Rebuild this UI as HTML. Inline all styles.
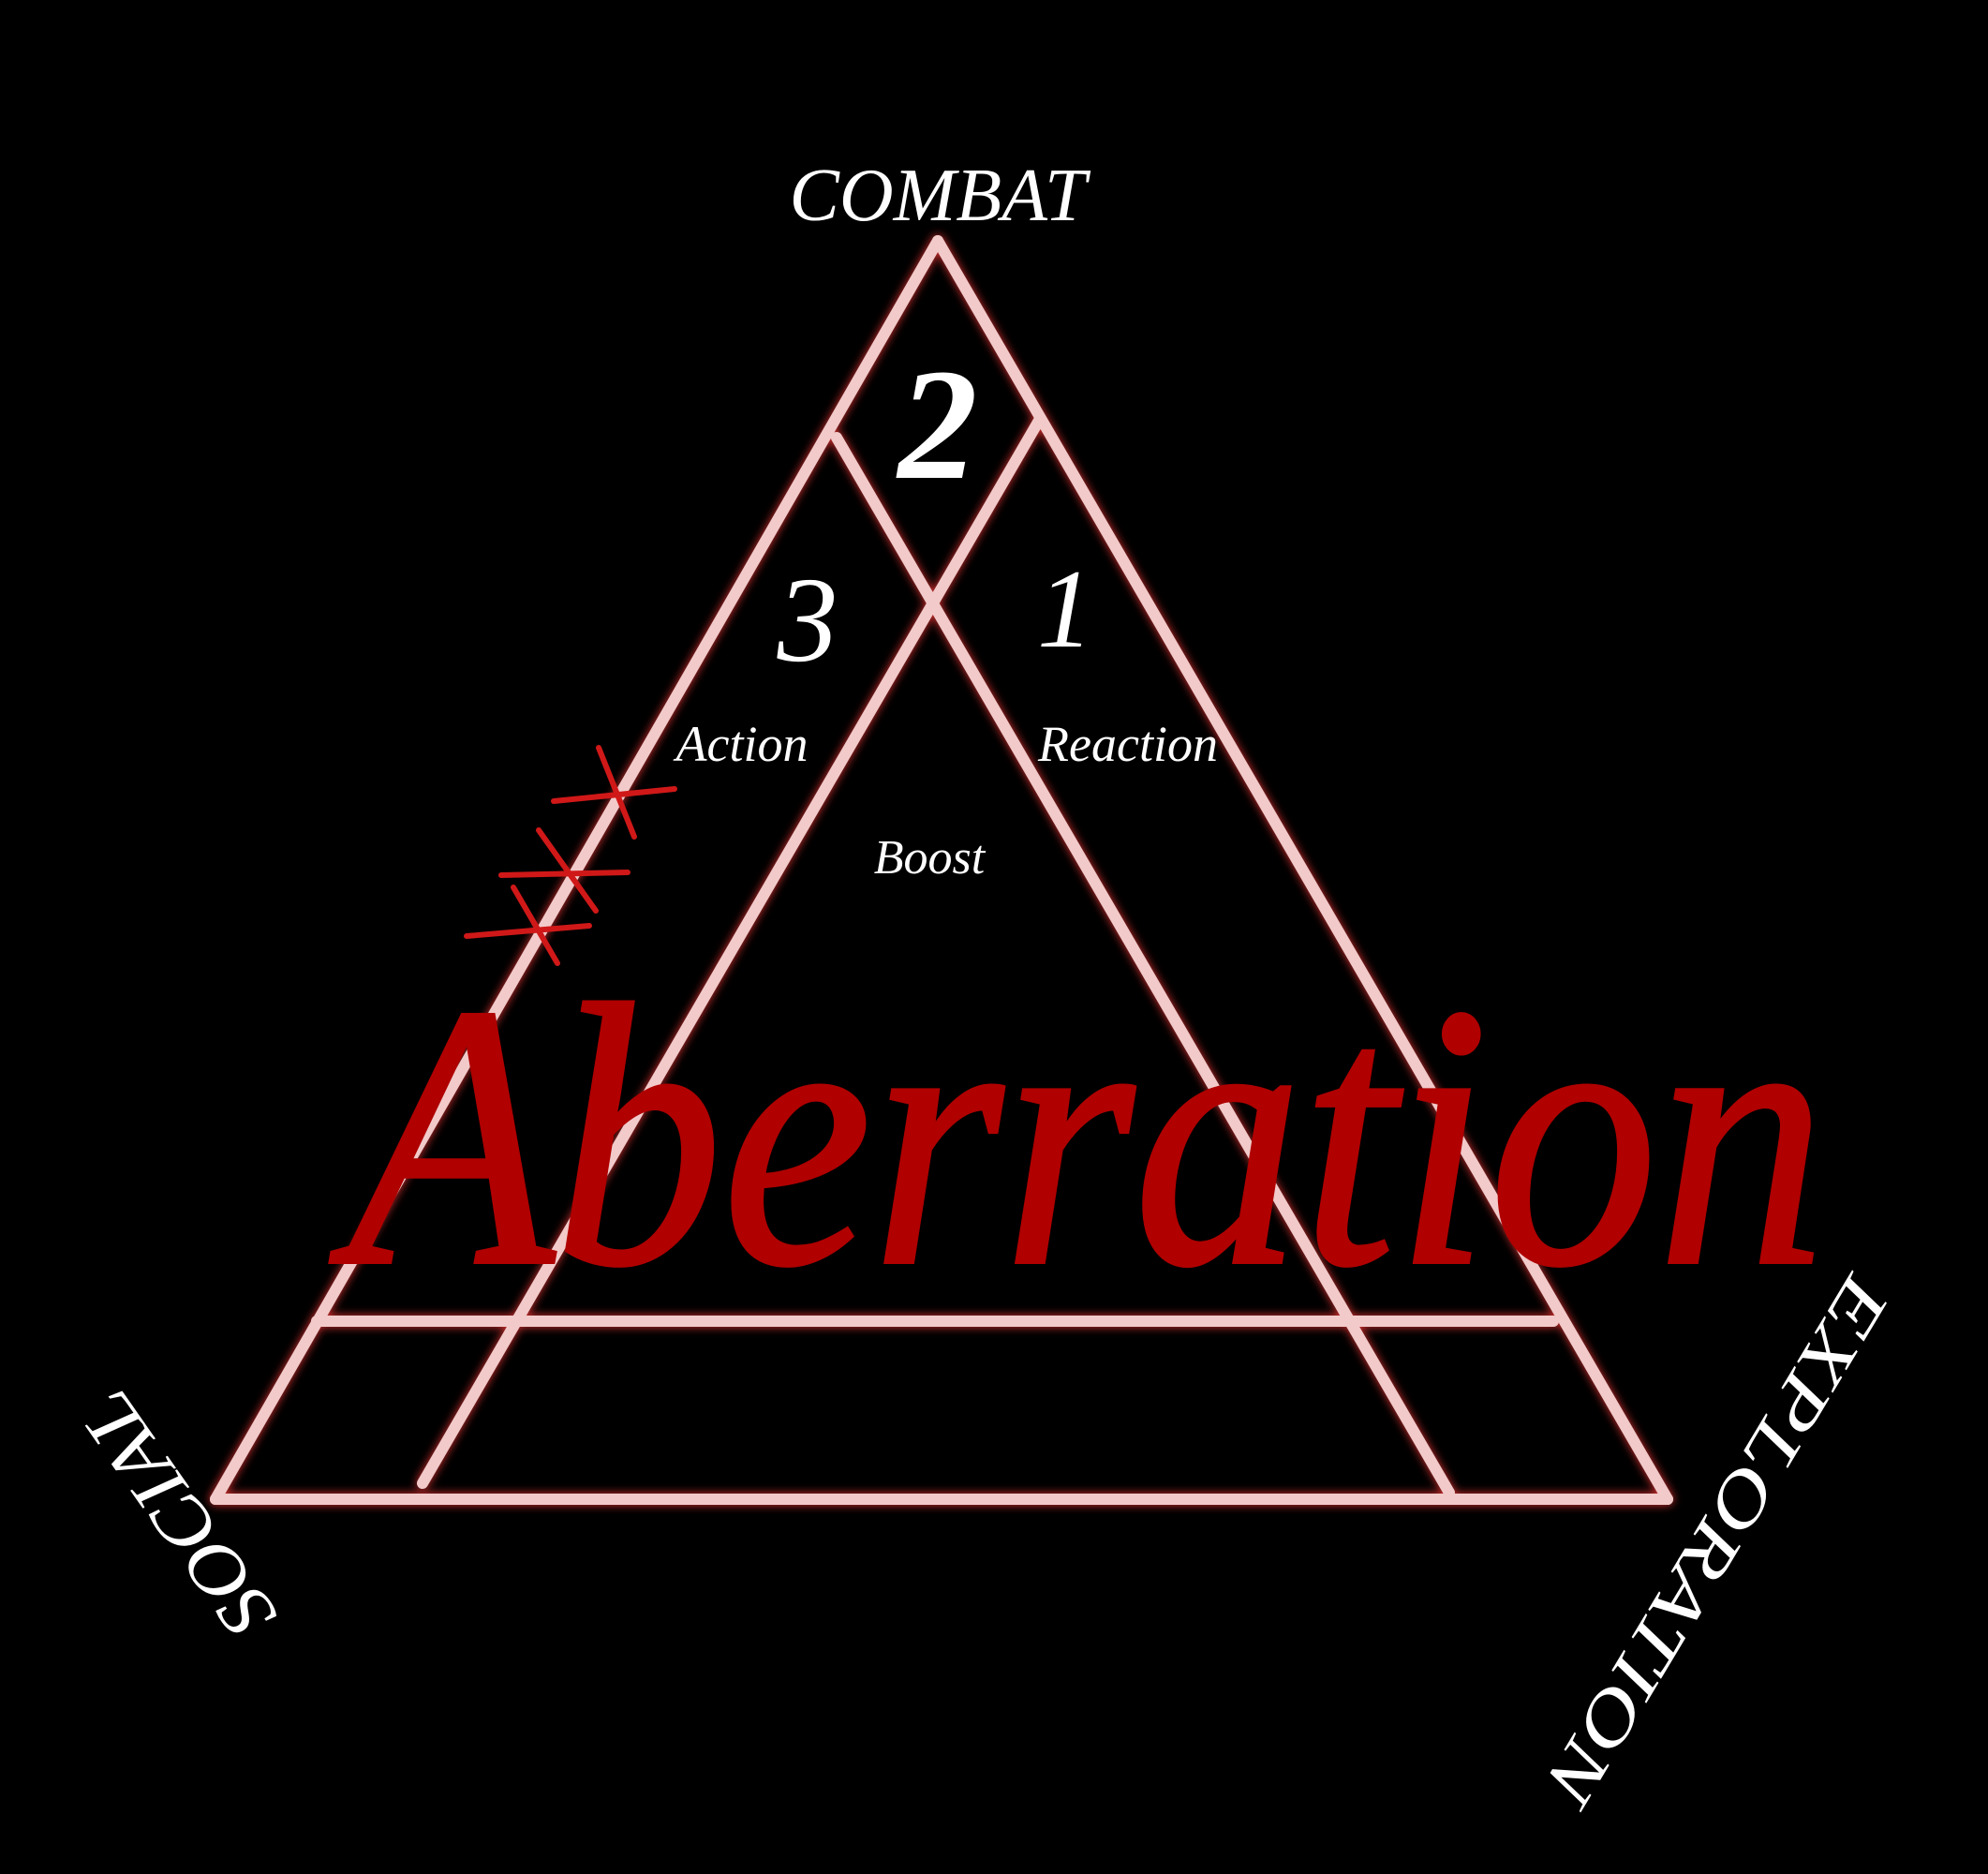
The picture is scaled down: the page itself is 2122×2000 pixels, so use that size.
<!DOCTYPE html>
<html><head><meta charset="utf-8"><style>html,body{margin:0;padding:0;background:#000;}svg{display:block}</style></head>
<body>
<svg width="2122" height="2000" viewBox="0 0 2122 2000" xmlns="http://www.w3.org/2000/svg">
<defs>
<filter id="glow" x="-10%" y="-10%" width="120%" height="120%">
<feGaussianBlur in="SourceGraphic" stdDeviation="5" result="b"/>
<feFlood flood-color="#e03030"/><feComposite in2="b" operator="in" result="r"/>
<feMerge><feMergeNode in="r"/><feMergeNode in="SourceGraphic"/></feMerge>
</filter>
</defs>
<rect width="2122" height="2000" fill="#000"/>
<g stroke="#f2caca" stroke-width="12" stroke-linecap="round" fill="none" filter="url(#glow)">
<line x1="1001" y1="257" x2="230" y2="1600"/>
<line x1="1001" y1="257" x2="1780" y2="1600"/>
<line x1="230" y1="1600" x2="1780" y2="1600"/>
<line x1="893" y1="467" x2="1547" y2="1593"/>
<line x1="1110" y1="447" x2="451" y2="1583"/>
<line x1="338" y1="1410" x2="1658" y2="1410"/>
</g>
<g stroke="#d01818" stroke-width="6" stroke-linecap="round">
<line x1="591" y1="855" x2="720" y2="842"/>
<line x1="535" y1="934" x2="670" y2="931"/>
<line x1="498" y1="999" x2="629" y2="988"/>
<line x1="639" y1="798" x2="677" y2="893"/>
<line x1="575" y1="886" x2="636" y2="972"/>
<line x1="548" y1="947" x2="595" y2="1028"/>
</g>
<g fill="#fff" font-family="'Liberation Serif',serif" font-style="italic" text-anchor="middle">
<text x="1001" y="235" font-size="80">COMBAT</text>
<text x="1001" y="510" font-size="170" font-weight="bold">2</text>
<text x="862" y="705" font-size="130">3</text>
<text x="1137" y="690" font-size="120">1</text>
<text x="792" y="812" font-size="54">Action</text>
<text x="1204" y="812" font-size="54">Reaction</text>
<text x="992" y="932" font-size="52">Boost</text>
<text transform="translate(189,1617) rotate(-125)" font-size="82" dy="28" textLength="300" lengthAdjust="spacingAndGlyphs">SOCIAL</text>
<text transform="translate(1834,1644) rotate(121)" font-size="76" dy="26" textLength="640" lengthAdjust="spacingAndGlyphs">EXPLORATION</text>
</g>
<text x="372" y="1347" font-family="'Liberation Serif',serif" font-style="italic" font-size="400" fill="#b00000" stroke="#b00000" stroke-width="4" textLength="1577" lengthAdjust="spacingAndGlyphs">Aberration</text>
</svg>
</body></html>
